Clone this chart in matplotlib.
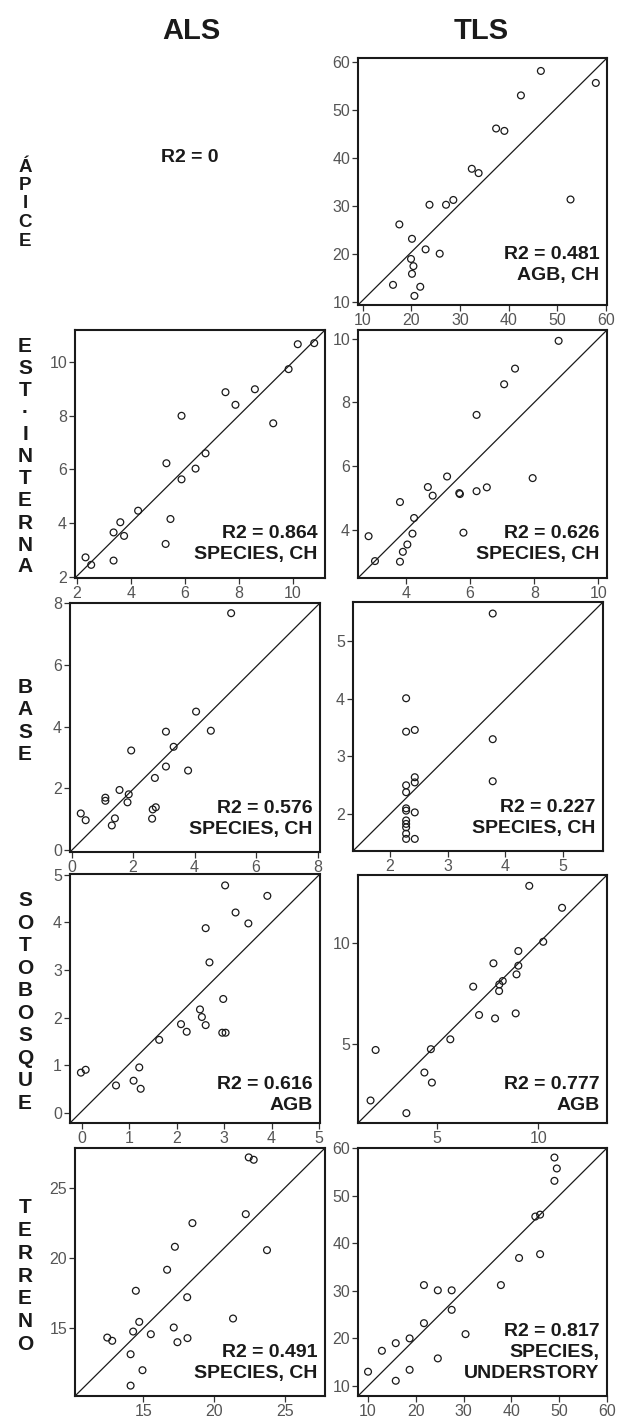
import matplotlib
matplotlib.use("Agg")
import matplotlib.pyplot as plt

plt.rcParams['font.family'] = ['Liberation Sans', 'DejaVu Sans']

# ÁPICE, TLS
apice_tls_x = [16.2, 17.5, 20.1, 19.9, 20.4, 20.1, 20.6, 21.8, 22.9, 23.7,
               25.8, 27.1, 28.6, 32.4, 33.8, 37.4, 39.1, 42.5, 46.6, 57.9, 52.7]
apice_tls_y = [13.5, 26.1, 23.1, 18.9, 17.4, 15.8, 11.2, 13.1, 20.9, 30.2,
               20.0, 30.2, 31.2, 37.7, 36.8, 46.1, 45.6, 53.0, 58.1, 55.6, 31.3]

# EST. INTERNA, ALS
interna_als_x = [2.32, 2.53, 3.36, 3.36, 3.61, 3.75, 4.27, 5.29, 5.32, 5.47, 5.88,
                 5.88, 6.40, 6.77, 7.51, 7.88, 8.60, 9.28, 9.85, 10.19, 10.80]
interna_als_y = [2.72, 2.44, 2.60, 3.65, 4.03, 3.52, 4.46, 3.22, 6.23, 4.15, 8.00,
                 5.63, 6.03, 6.60, 8.88, 8.41, 8.99, 7.72, 9.74, 10.67, 10.71]
# EST. INTERNA, TLS
interna_tls_x = [2.83, 3.03, 3.81, 3.81, 3.90, 4.04, 4.20, 4.25, 4.68, 4.83, 5.28,
                 5.66, 5.68, 5.79, 6.20, 6.20, 6.52, 7.06, 7.40, 7.95, 8.76]
interna_tls_y = [3.81, 3.03, 4.88, 3.01, 3.32, 3.55, 3.89, 4.38, 5.35, 5.08, 5.68,
                 5.16, 5.13, 3.92, 5.22, 7.61, 5.34, 8.57, 9.06, 5.63, 9.93]

# BASE, ALS
base_als_x = [0.30, 0.46, 1.10, 1.10, 1.31, 1.41, 1.56, 1.82, 1.86, 1.94, 2.62,
              2.64, 2.74, 2.71, 3.07, 3.07, 3.32, 3.79, 4.05, 4.53, 5.19]
base_als_y = [1.19, 0.97, 1.70, 1.60, 0.80, 1.03, 1.95, 1.55, 1.81, 3.23, 1.02,
              1.32, 1.39, 2.34, 2.71, 3.84, 3.35, 2.58, 4.49, 3.87, 7.68]
# BASE, TLS
base_tls_x = [2.28, 2.28, 2.28, 2.28, 2.28, 2.28, 2.28, 2.28, 2.28, 2.28, 2.28,
              2.43, 2.43, 2.43, 2.43, 2.43, 3.78, 3.78, 3.78]
base_tls_y = [4.01, 3.43, 2.50, 2.38, 2.10, 2.06, 1.89, 1.83, 1.77, 1.66, 1.57,
              3.46, 2.64, 2.55, 2.03, 1.57, 5.48, 3.30, 2.57]

# SOTOBOSQUE, ALS
soto_als_x = [-0.02, 0.08, 0.72, 1.09, 1.21, 1.24, 1.63, 2.09, 2.21, 2.49, 2.53,
              2.61, 2.61, 2.69, 2.96, 3.03, 2.98, 3.02, 3.24, 3.51, 3.91]
soto_als_y = [0.84, 0.90, 0.57, 0.67, 0.95, 0.50, 1.53, 1.86, 1.70, 2.17, 2.01,
              1.84, 3.88, 3.16, 1.68, 1.68, 2.39, 4.78, 4.21, 3.98, 4.56]
# SOTOBOSQUE, TLS
soto_tls_x = [1.72, 1.97, 3.49, 4.38, 4.70, 4.75, 5.66, 6.79, 7.08, 7.79, 7.87,
              8.07, 8.08, 8.25, 8.89, 8.93, 9.02, 9.02, 9.56, 10.25, 11.18]
soto_tls_y = [2.19, 4.70, 1.56, 3.58, 4.74, 3.08, 5.23, 7.85, 6.44, 9.01, 6.27,
              7.63, 7.96, 8.13, 6.52, 8.46, 8.89, 9.62, 12.86, 10.08, 11.77]

# TERRENO, ALS
terreno_als_x = [12.46, 12.81, 14.11, 14.11, 14.29, 14.48, 14.72, 14.95, 15.54, 16.69, 17.16,
                 17.24, 17.42, 18.11, 18.13, 18.48, 21.35, 22.25, 22.46, 22.81, 23.75]
terreno_als_y = [14.33, 14.10, 13.14, 10.90, 14.76, 17.67, 15.45, 12.00, 14.57, 19.17, 15.05,
                 20.81, 14.00, 17.21, 14.29, 22.50, 15.69, 23.14, 27.19, 27.02, 20.57]
# TERRENO, TLS
terreno_tls_x = [10.0, 12.9, 15.8, 15.8, 18.7, 18.7, 21.7, 21.7, 24.6, 24.6, 27.5,
                 27.5, 30.4, 37.8, 41.6, 45.0, 46.0, 46.0, 49.0, 49.0, 49.5]
terreno_tls_y = [13.0, 17.4, 19.0, 11.1, 20.0, 13.4, 31.2, 23.2, 30.1, 15.8, 30.1,
                 26.0, 20.9, 31.2, 36.9, 45.6, 46.0, 37.7, 53.1, 58.0, 55.7]

columns = ['ALS', 'TLS']
rows = ['ÁPICE', 'EST·INTERNA', 'BASE', 'SOTOBOSQUE', 'TERRENO']
apice_als_note = 'R2 = 0'
notes = {
    'interna_als': 'R2 = 0.864\nSPECIES, CH',
    'interna_tls': 'R2 = 0.626\nSPECIES, CH',
    'apice_tls': 'R2 = 0.481\nAGB, CH',
    'base_als': 'R2 = 0.576\nSPECIES, CH',
    'base_tls': 'R2 = 0.227\nSPECIES, CH',
    'soto_als': 'R2 = 0.616\nAGB',
    'soto_tls': 'R2 = 0.777\nAGB',
    'terreno_als': 'R2 = 0.491\nSPECIES, CH',
    'terreno_tls': 'R2 = 0.817\nSPECIES,\nUNDERSTORY',
}

W, H = 619, 1420
fig = plt.figure(figsize=(W / 100, H / 100), dpi=100)
INK = '#1a1a1a'


def add_panel(box, x, y, xlim, ylim, ticks, note, note_y):
    l, t, r, b = box
    ax = fig.add_axes([l / W, 1 - b / H, (r - l) / W, (b - t) / H])
    ax.plot([xlim[0], xlim[1]], [ylim[0], ylim[1]], color=INK, lw=0.9, zorder=1)
    ax.scatter(x, y, s=24, facecolors='none', edgecolors=INK, linewidths=0.9, zorder=2)
    ax.set_xlim(xlim)
    ax.set_ylim(ylim)
    ax.set_xticks(ticks)
    ax.set_yticks(ticks)
    for sp in ax.spines.values():
        sp.set_linewidth(1.5)
        sp.set_color(INK)
    ax.tick_params(direction='out', length=4.5, width=0.9, pad=1.2,
                   labelsize=11.5, labelcolor='#555555', color='#333333')
    ax.text(0.97, note_y, note, transform=ax.transAxes, ha='right', va='bottom',
            fontsize=14, fontweight='bold', linespacing=1.3, color=INK)
    return ax


# row 1
add_panel((358, 58, 607, 305), apice_tls_x, apice_tls_y, (9.0, 60.2), (9.3, 60.8),
          [10, 20, 30, 40, 50, 60], notes['apice_tls'], 0.085)
# row 2
add_panel((75, 330, 325, 578), interna_als_x, interna_als_y, (1.93, 11.2), (1.95, 11.2),
          [2, 4, 6, 8, 10], notes['interna_als'], 0.06)
add_panel((358, 330, 607, 578), interna_tls_x, interna_tls_y, (2.5, 10.27), (2.5, 10.27),
          [4, 6, 8, 10], notes['interna_tls'], 0.06)
# row 3
add_panel((70, 603, 320, 852), base_als_x, base_als_y, (-0.05, 8.08), (-0.06, 8.01),
          [0, 2, 4, 6, 8], notes['base_als'], 0.055)
add_panel((353, 602, 603, 851), base_tls_x, base_tls_y, (1.36, 5.69), (1.36, 5.68),
          [2, 3, 4, 5], notes['base_tls'], 0.055)
# row 4
add_panel((70, 874, 320, 1123), soto_als_x, soto_als_y, (-0.25, 5.02), (-0.22, 5.02),
          [0, 1, 2, 3, 4, 5], notes['soto_als'], 0.038)
add_panel((358, 875, 607, 1123), soto_tls_x, soto_tls_y, (1.1, 13.4), (1.07, 13.4),
          [5, 10], notes['soto_tls'], 0.036)
# row 5
add_panel((75, 1148, 325, 1396), terreno_als_x, terreno_als_y, (10.18, 27.85), (10.16, 27.86),
          [15, 20, 25], notes['terreno_als'], 0.057)
add_panel((358, 1148, 607, 1396), terreno_tls_x, terreno_tls_y, (7.9, 60.0), (7.9, 60.0),
          [10, 20, 30, 40, 50, 60], notes['terreno_tls'], 0.057)

# empty ALS cell for ÁPICE
fig.text(190 / W, 1 - 158 / H, apice_als_note, ha='center', va='center',
         fontsize=14, fontweight='bold', color=INK)

# column headers
for name, cx in zip(columns, [191, 481]):
    fig.text(cx / W, 1 - 31 / H, name, ha='center', va='center',
             fontsize=21, fontweight='bold', color=INK)

# row labels, letters stacked vertically
row_centers = [204, 457, 721, 1002, 1276]
row_steps = [18.5, 22, 22.5, 22.5, 22.8]
row_sizes = [13.5, 15, 15, 15, 15]
for label, cy, step, fs in zip(rows, row_centers, row_steps, row_sizes):
    n = len(label)
    for i, ch in enumerate(label):
        yy = cy + (i - (n - 1) / 2) * step
        fig.text(25 / W, 1 - yy / H, ch, ha='center', va='center',
                 fontsize=fs, fontweight='bold', color=INK)

fig.savefig('out.png', dpi=100)
